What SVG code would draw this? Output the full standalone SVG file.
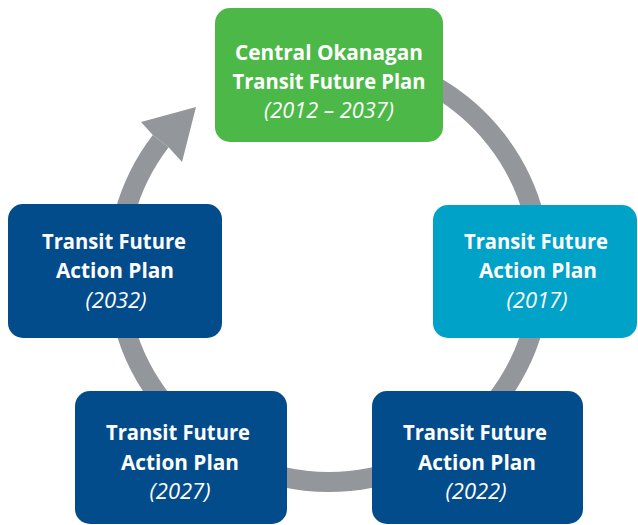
<svg xmlns="http://www.w3.org/2000/svg" width="638" height="525" viewBox="0 0 638 525">
  <style>
    .box-green { fill: #4cb847; }
    .box-teal { fill: #00a2c7; }
    .box-navy { fill: #034c8c; }
    .title { font-family: "Open Sans", "Liberation Sans", sans-serif; font-weight: 700; font-size: 22px; fill: #ffffff; text-anchor: middle; }
    .year { font-family: "Open Sans", "Liberation Sans", sans-serif; font-style: italic; font-weight: 400; font-size: 22px; fill: #ffffff; text-anchor: middle; }
    .ring { fill: none; stroke: #93979c; stroke-width: 20; stroke-linecap: butt; }
    .head { fill: #93979c; }
  </style>

  <!-- cycle ring: circle centre (329,270), r 212, runs clockwise from under the top box round to the arrowhead -->
  <g id="connectors">
    <path class="ring" d="M 435 86.4 A 212 212 0 1 1 160.7 141.1"/>
    <polygon class="head" points="152.8,135 141,122 196,107 182,162 168.6,147.2"/>
  </g>

  <g id="node-central-okanagan">
    <rect class="box-green" x="215" y="8" width="228" height="134" rx="15"/>
    <text class="title" x="329" y="60" textLength="188" lengthAdjust="spacingAndGlyphs">Central Okanagan</text>
    <text class="title" x="329" y="89" textLength="193" lengthAdjust="spacingAndGlyphs">Transit Future Plan</text>
    <text class="year" x="329" y="118" textLength="130" lengthAdjust="spacingAndGlyphs">(2012 – 2037)</text>
  </g>

  <g id="node-2017">
    <rect class="box-teal" x="433" y="205" width="204" height="133" rx="15"/>
    <text class="title" x="536" y="249" textLength="144" lengthAdjust="spacingAndGlyphs">Transit Future</text>
    <text class="title" x="538" y="278" textLength="118" lengthAdjust="spacingAndGlyphs">Action Plan</text>
    <text class="year" x="537" y="308">(2017)</text>
  </g>

  <g id="node-2022">
    <rect class="box-navy" x="372" y="391" width="211" height="133" rx="15"/>
    <text class="title" x="475" y="440" textLength="144" lengthAdjust="spacingAndGlyphs">Transit Future</text>
    <text class="title" x="477" y="470" textLength="118" lengthAdjust="spacingAndGlyphs">Action Plan</text>
    <text class="year" x="476" y="499">(2022)</text>
  </g>

  <g id="node-2027">
    <rect class="box-navy" x="75" y="391" width="212" height="133" rx="15"/>
    <text class="title" x="178" y="440" textLength="144" lengthAdjust="spacingAndGlyphs">Transit Future</text>
    <text class="title" x="180" y="470" textLength="118" lengthAdjust="spacingAndGlyphs">Action Plan</text>
    <text class="year" x="180" y="499">(2027)</text>
  </g>

  <g id="node-2032">
    <rect class="box-navy" x="8" y="204" width="214" height="134" rx="15"/>
    <text class="title" x="114" y="249" textLength="144" lengthAdjust="spacingAndGlyphs">Transit Future</text>
    <text class="title" x="115" y="278" textLength="118" lengthAdjust="spacingAndGlyphs">Action Plan</text>
    <text class="year" x="116" y="308">(2032)</text>
  </g>
</svg>
